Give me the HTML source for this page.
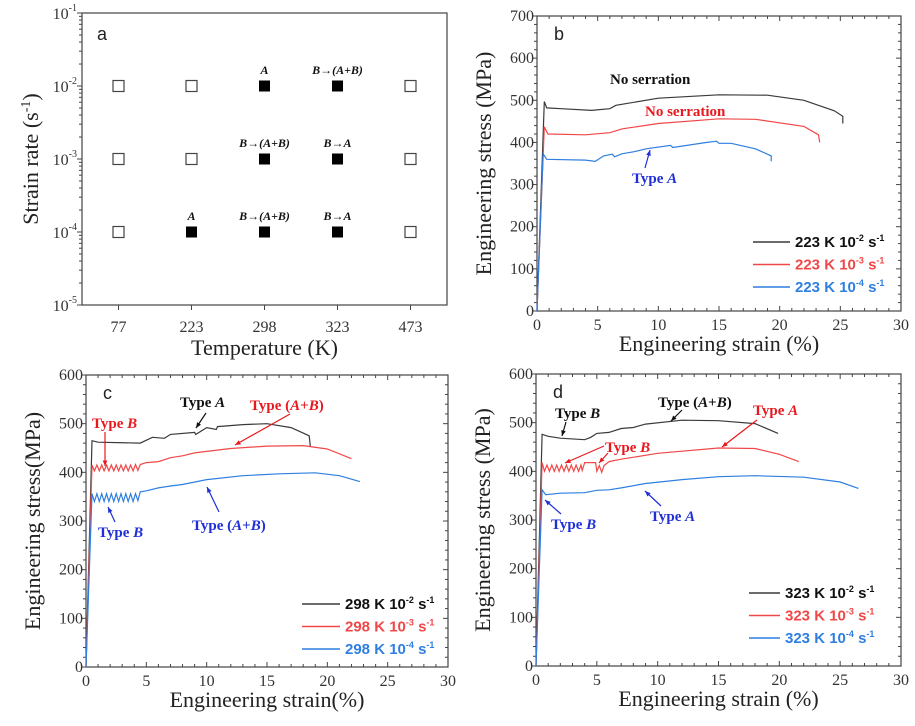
<!DOCTYPE html>
<html><head><meta charset="utf-8"><style>
html,body{margin:0;padding:0;background:#fff;}
svg{display:block;font-family:"Liberation Serif",serif;}
</style></head><body>
<svg id="fig" width="915" height="726" viewBox="0 0 915 726" xmlns="http://www.w3.org/2000/svg"></svg>
<script>
// ---- Panel a data ----
const aTemps = ["77","223","298","323","473"];
const aRateTicks = [-1,-2,-3,-4,-5];
const aFilled = [[298,-2,"A"],[323,-2,"B→(A+B)"],[298,-3,"B→(A+B)"],[323,-3,"B→A"],[223,-4,"A"],[298,-4,"B→(A+B)"],[323,-4,"B→A"]];
const aOpen = [[77,-2],[223,-2],[77,-3],[223,-3],[77,-4],[473,-2],[473,-3],[473,-4]];
// ---- Panel b data ----
const bBlackX=[0,0.6,0.8,2,4.5,6,6.5,10,15,19,22,24.5,25.2,25.2];
const bBlackY=[0,497,482,480,476,480,488,505,513,512,500,475,462,445];
const bRedX=[0,0.6,0.9,4,6,7,10,15,18,22,23.2,23.3];
const bRedY=[0,437,420,418,423,432,445,456,455,438,418,400];
const bBlueX=[0,0.5,0.8,4,4.8,5.5,6.2,6.4,7,8,9,11,11.2,14,14.8,15,16,18,19.3,19.3];
const bBlueY=[0,373,360,358,355,368,372,366,373,378,385,393,388,400,403,398,398,385,368,355];
// ---- Panel c data ----
const cBlackX=[0,0.5,1,4.5,5.5,6.5,7,9,9.1,10,10.8,10.9,13,15,17,18.5,18.6];
const cBlackY=[0,465,462,460,472,470,478,482,478,492,488,494,498,500,492,475,452];
const cRedX=[0,0.5,0.7,0.9,1.1,1.3,1.5,1.7,1.9,2.1,2.3,2.5,2.7,2.9,3.1,3.3,3.5,3.7,3.9,4.1,4.3,4.5,5,6,7,8,9,10,12,15,18,20,22];
const cRedY=[0,415,403,415,403,415,403,415,403,415,403,415,403,415,403,415,403,415,403,416,404,416,420,422,430,434,440,443,449,454,455,448,428];
const cBlueX=[0,0.5,0.7,0.9,1.1,1.3,1.5,1.7,1.9,2.1,2.3,2.5,2.7,2.9,3.1,3.3,3.5,3.7,3.9,4.1,4.3,4.5,5,6,7,8,10,13,16,19,21,22.7];
const cBlueY=[0,356,340,356,340,356,340,356,340,356,340,356,340,356,340,356,340,356,340,356,342,360,362,368,372,375,385,393,397,399,393,381];
// ---- Panel d data ----
const dBlackX=[0,0.5,1,2,4,4.5,5,6,7,8,9,12,15,18,19.9];
const dBlackY=[0,476,472,468,465,470,478,480,488,490,497,505,504,498,478];
const dRedX=[0,0.5,0.7,0.9,1.1,1.3,1.5,1.7,1.9,2.1,2.3,2.5,2.7,2.9,3.1,3.3,3.5,3.7,3.8,4,4.9,5,5.2,5.4,5.6,6,7,10,15,18,20,21.6];
const dRedY=[0,418,400,413,400,413,400,413,400,413,400,413,400,413,400,413,400,413,402,418,418,400,412,398,412,420,425,437,448,447,435,420];
const dBlueX=[0,0.5,0.8,2,4,5,6,7,9,12,15,18,22,25,26.5];
const dBlueY=[0,362,352,355,356,361,362,366,375,383,389,391,388,378,365];
const xTicks=[0,5,10,15,20,25,30];

const NS="http://www.w3.org/2000/svg";
const svg=document.getElementById('fig');
function mk(tag,attrs,parent,text){const e=document.createElementNS(NS,tag);for(const k in attrs)e.setAttribute(k,attrs[k]);if(text!==undefined)e.textContent=text;(parent||svg).appendChild(e);return e;}
const C={k:"#3a3a3a",r:"#f04848",b:"#2f7fe0"};
const T={k:"#111",r:"#e8191e",b:"#1f2fd8"};

function arrow(g,x1,y1,x2,y2,col){
  const l=mk('line',{x1:x1,y1:y1,x2:x2,y2:y2,stroke:col,'stroke-width':1.2},g);
  
  
  const a=Math.atan2(y2-y1,x2-x1),s=6;
  const p=mk('polygon',{points:`${x2},${y2} ${x2-s*Math.cos(a-0.4)},${y2-s*Math.sin(a-0.4)} ${x2-s*Math.cos(a+0.4)},${y2-s*Math.sin(a+0.4)}`,fill:col},g);
  
  
}
function ann(g,x,y,html,col,name){
  const t=mk('text',{x:x,y:y,fill:col,'font-size':15,'font-weight':'bold'},g);
  t.innerHTML=html;
  
  
}

function axesFrame(g,L,R,Tp,B){
  const f=mk('rect',{x:L,y:Tp,width:R-L,height:B-Tp,fill:'none',stroke:'#444','stroke-width':1.2},g);
  
  
}

function stressPanel(id,L,R,Tp,B,ymax,series,legend,letter,yTitle,xTitle,legPos){
  const g=mk('g',{},svg);
  
  
  const sx=v=>L+(R-L)*v/30, sy=v=>B-(B-Tp)*v/ymax;
  axesFrame(g,L,R,Tp,B);
  for(let v=0;v<=30;v+=1){const maj=v%5===0,len=maj?5:3;
    mk('line',{x1:sx(v),y1:B,x2:sx(v),y2:B-len,stroke:'#444'},g);
    mk('line',{x1:sx(v),y1:Tp,x2:sx(v),y2:Tp+len,stroke:'#444'},g);}
  for(let v=0;v<=ymax;v+=20){const maj=v%100===0,len=maj?5:3;
    mk('line',{x1:L,y1:sy(v),x2:L-len,y2:sy(v),stroke:'#444'},g);
    mk('line',{x1:R,y1:sy(v),x2:R-len,y2:sy(v),stroke:'#444'},g);}
  xTicks.forEach(v=>{const t=mk('text',{x:sx(v),y:B+19,'text-anchor':'middle','font-size':16,fill:'#333'},g,String(v));
    
    });
  for(let v=0;v<=ymax;v+=100){const t=mk('text',{x:L-3,y:sy(v)+5,'text-anchor':'end','font-size':16,fill:'#333'},g,String(v));
    
    }
  const yt=mk('text',{x:0,y:0,'text-anchor':'middle','font-size':22,fill:'#222',transform:`translate(${L-46},${(Tp+B)/2}) rotate(-90)`},g,yTitle);
  
  
  const xt=mk('text',{x:(L+R)/2,y:B+40,'text-anchor':'middle','font-size':22,fill:'#222'},g,xTitle);
  
  
  const lt=mk('text',{x:L+17,y:Tp+24,'font-size':18,fill:'#222','font-family':'Liberation Sans, sans-serif'},g,letter);
  
  
  series.forEach((s,i)=>{
    const d=s.x.map((v,j)=>(j?'L':'M')+sx(v).toFixed(1)+','+sy(s.y[j]).toFixed(1)).join('');
    const p=mk('path',{d:d,fill:'none',stroke:s.c,'stroke-width':1.2},g);
    
    
  });
  legend.forEach((lab,i)=>{
    const y=legPos[2]+i*22.5, col=[C.k,C.r,C.b][i];
    const ln=mk('line',{x1:legPos[0],y1:y,x2:legPos[1],y2:y,stroke:col,'stroke-width':1.5},g);
    
    
    const t=mk('text',{x:legPos[1]+5,y:y+5,'font-size':15,'font-weight':'bold',fill:[ '#111','#f04848','#2f7fe0'][i],'font-family':'Liberation Sans, sans-serif'},g);
    t.innerHTML=`${lab} K 10<tspan dy="-6" font-size="9">-${i+2}</tspan><tspan dy="6"> s</tspan><tspan dy="-6" font-size="9">-1</tspan>`;
    
    
  });
  return g;
}

// ---- Panel a ----
(function(){
  const L=82,R=447,Tp=13,B=305;
  const g=mk('g',{},svg);
  
  
  axesFrame(g,L,R,Tp,B);
  const sy=e=>Tp+(B-Tp)*(-1-e)/4;
  const tIdx={77:0,223:1,298:2,323:3,473:4};
  const sx=t=>L+36.5+73*tIdx[t];
  for(let e=-5;e<-1;e++){for(let m=1;m<=10;m++){const y=sy(e+Math.log10(m));const len=m===1||m===10?5:3;
    mk('line',{x1:L,y1:y,x2:L-len,y2:y,stroke:'#444'},g);}}
  aRateTicks.forEach(e=>{const t=mk('text',{x:L-5,y:sy(e)+6,'text-anchor':'end','font-size':16,fill:'#333'},g);
    t.innerHTML=`10<tspan dy="-8" font-size="10">${e}</tspan>`;
    
    });
  aTemps.forEach(tmp=>{const x=sx(+tmp);
    mk('line',{x1:x,y1:B,x2:x,y2:B+5,stroke:'#444'},g);
    const t=mk('text',{x:x,y:B+27,'text-anchor':'middle','font-size':16,fill:'#333'},g,tmp);
    
    });
  aOpen.forEach(p=>{const r=mk('rect',{x:sx(p[0])-5.5,y:sy(p[1])-5.5,width:11,height:11,fill:'#fff',stroke:'#444','stroke-width':1.2},g);
    
    });
  aFilled.forEach(p=>{const r=mk('rect',{x:sx(p[0])-5.5,y:sy(p[1])-5.5,width:11,height:11,fill:'#000'},g);
    
    
    const t=mk('text',{x:sx(p[0]),y:sy(p[1])-12,'text-anchor':'middle','font-size':12,'font-weight':'bold','font-style':'italic',fill:'#111'},g,p[2]);
    
    });
  const yt=mk('text',{x:0,y:0,'text-anchor':'middle','font-size':22,fill:'#222',transform:`translate(38,${(Tp+B)/2}) rotate(-90)`},g);
  yt.innerHTML='Strain rate (s<tspan dy="-8" font-size="14">-1</tspan><tspan dy="8">)</tspan>';
  
  
  const xt=mk('text',{x:(L+R)/2,y:355,'text-anchor':'middle','font-size':22,fill:'#222'},g,'Temperature (K)');
  
  
  const lt=mk('text',{x:97,y:40,'font-size':18,fill:'#222','font-family':'Liberation Sans, sans-serif'},g,'a');
  
  
})();

// ---- Panel b ----
const gb=stressPanel('b',537,901,16,311,700,
  [{n:'223K-1e-2',x:bBlackX,y:bBlackY,c:C.k},{n:'223K-1e-3',x:bRedX,y:bRedY,c:C.r},{n:'223K-1e-4',x:bBlueX,y:bBlueY,c:C.b}],
  ['223','223','223'],'b','Engineering stress (MPa)','Engineering strain (%)',[753,790,242]);
ann(gb,610,84,'No serration',T.k,'annotation-no-serration-black');
ann(gb,645,116,'No serration',T.r,'annotation-no-serration-red');
ann(gb,632,183,'Type <tspan font-style="italic">A</tspan>',T.b,'annotation-type-a');
arrow(gb,645,168,650,150,T.b);

// ---- Panel c ----
const gc=stressPanel('c',86,448,375,667,600,
  [{n:'298K-1e-2',x:cBlackX,y:cBlackY,c:C.k},{n:'298K-1e-3',x:cRedX,y:cRedY,c:C.r},{n:'298K-1e-4',x:cBlueX,y:cBlueY,c:C.b}],
  ['298','298','298'],'c','Engineering stress(MPa)','Engineering strain(%)',[302,340,604]);
ann(gc,180,407,'Type <tspan font-style="italic">A</tspan>',T.k,'annotation-c-black-type-a');
arrow(gc,206,413,196,428,T.k);
ann(gc,250,410,'Type (<tspan font-style="italic">A</tspan>+<tspan font-style="italic">B</tspan>)',T.r,'annotation-c-red-type-ab');
arrow(gc,290,414,235,445,T.r);
ann(gc,92,428,'Type <tspan font-style="italic">B</tspan>',T.r,'annotation-c-red-type-b');
arrow(gc,105,432,105,466,T.r);
ann(gc,98,537,'Type <tspan font-style="italic">B</tspan>',T.b,'annotation-c-blue-type-b');
arrow(gc,115,522,108,507,T.b);
ann(gc,192,530,'Type (<tspan font-style="italic">A</tspan>+<tspan font-style="italic">B</tspan>)',T.b,'annotation-c-blue-type-ab');
arrow(gc,219,512,207,487,T.b);

// ---- Panel d ----
const gd=stressPanel('d',536,901,374,666,600,
  [{n:'323K-1e-2',x:dBlackX,y:dBlackY,c:C.k},{n:'323K-1e-3',x:dRedX,y:dRedY,c:C.r},{n:'323K-1e-4',x:dBlueX,y:dBlueY,c:C.b}],
  ['323','323','323'],'d','Engineering stress (MPa)','Engineering strain (%)',[749,780,593]);
ann(gd,555,418,'Type <tspan font-style="italic">B</tspan>',T.k,'annotation-d-black-type-b');
arrow(gd,566,422,562,436,T.k);
ann(gd,658,407,'Type (<tspan font-style="italic">A</tspan>+<tspan font-style="italic">B</tspan>)',T.k,'annotation-d-black-type-ab');
arrow(gd,682,410,671,421,T.k);
ann(gd,753,415,'Type <tspan font-style="italic">A</tspan>',T.r,'annotation-d-red-type-a');
arrow(gd,757,420,722,447,T.r);
ann(gd,605,452,'Type <tspan font-style="italic">B</tspan>',T.r,'annotation-d-red-type-b');
arrow(gd,604,446,565,463,T.r);
arrow(gd,608,453,599,463,T.r);
ann(gd,551,529,'Type <tspan font-style="italic">B</tspan>',T.b,'annotation-d-blue-type-b');
arrow(gd,561,514,545,500,T.b);
ann(gd,650,521,'Type <tspan font-style="italic">A</tspan>',T.b,'annotation-d-blue-type-a');
arrow(gd,661,506,645,491,T.b);
</script>
</body></html>
